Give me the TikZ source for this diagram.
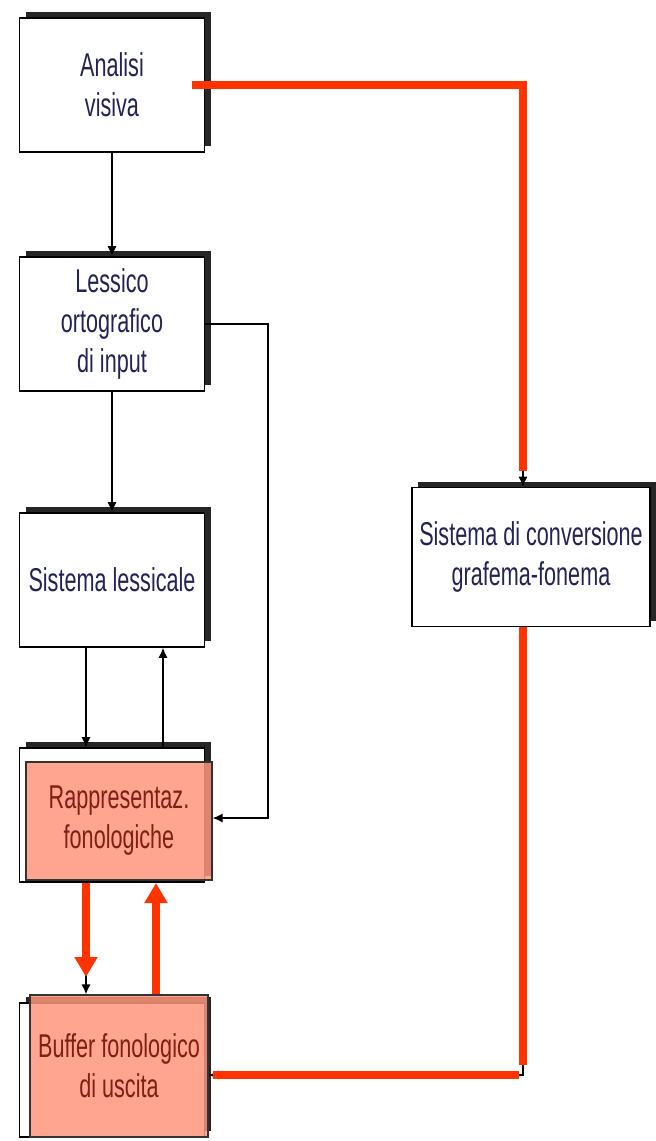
\documentclass[tikz,border=0pt]{standalone}
\usepackage{fontspec}
\setmainfont[FakeStretch=0.655]{Liberation Sans}
\usetikzlibrary{arrows.meta,shadows,positioning}
\definecolor{redline}{RGB}{255,51,0}
\definecolor{salmon}{RGB}{255,150,125}
\definecolor{navy}{RGB}{35,35,85}
\definecolor{darkred}{RGB}{130,30,20}

\begin{document}
\begin{tikzpicture}[x=0.5pt,y=-0.5pt,
    box/.style={draw, line width=0.8pt, fill=white, minimum width=92.5pt,
        minimum height=67pt, align=center, text=navy,
        font=\fontsize{16.5}{20}\selectfont,
        drop shadow={shadow xshift=3pt, shadow yshift=3pt, opacity=0.85, fill=black}},
    fono/.style={draw=black!80, line width=0.6pt, fill=salmon, fill opacity=0.85,
        text opacity=1, text=darkred, align=center, inner sep=0pt,
        font=\fontsize{16.5}{20}\selectfont},
    link/.style={-{Latex[length=5pt,width=4.5pt]}, line width=0.6pt},
    route/.style={line width=4pt, draw=redline},
    fat/.style={route, -{Triangle[length=10pt,width=11pt]}}]
    \useasboundingbox (0,0) rectangle (656,1141);

    % boxes
    \node[box] (visiva) at (112,85) {Analisi\\visiva};
    \node[box] (lessico) at (112,324) {Lessico\\ortografico\\di input};
    \node[box] (lessicale) at (112,580) {Sistema lessicale};
    \node[box] (rappr) at (112,815) {};
    \node[fono, minimum width=93pt, minimum height=59pt] (rapprfono) at (119,821) {Rappresentaz.\\fonologiche};
    \node[box] (buffer) at (112,1070) {};
    \node[fono, minimum width=89pt, minimum height=71pt] (bufferfono) at (119,1066) {Buffer fonologico\\di uscita};
    \node[box, minimum width=119pt, minimum height=69.5pt] (conv) at (531,557) {Sistema di conversione\\grafema-fonema};

    \coordinate (corner) at (523,85);
    \coordinate (bend) at (268,818);
    \coordinate (foot) at (523,1075);
    \coordinate (down) at (86,883);
    \coordinate (up) at (156,883);

    % lexical route
    \draw[link] (visiva) -- (lessico);
    \draw[link] (lessico) -- (lessicale);
    \draw[link] (lessico.east) -| (bend) -- (rapprfono.east |- bend);
    \draw[link] ([xshift=-13pt]lessicale.south) -- ([xshift=-13pt]rappr.north);
    \draw[link] ([xshift=25.5pt]rappr.north) -- ([xshift=25.5pt]lessicale.south);

    % output buffer
    \draw[link] (down) -- (down |- bufferfono.north);
    \draw[fat] (down) -- ++(0,94);
    \draw[fat] (up |- bufferfono.north) -- (up);

    % sublexical route
    \draw[link] (corner) -- (corner |- conv.north);
    \draw[route] ([xshift=-6.5pt]visiva.east) -| ([yshift=8pt]conv.north -| corner);
    \draw[link] (conv.south -| foot) -- (foot) -- (bufferfono.east |- foot);
    \draw[route] (conv.south -| foot) -- ([yshift=5pt]foot);
    \draw[route] ([xshift=-2pt]foot) -- ([xshift=2pt]bufferfono.east |- foot);
\end{tikzpicture}
\end{document}
